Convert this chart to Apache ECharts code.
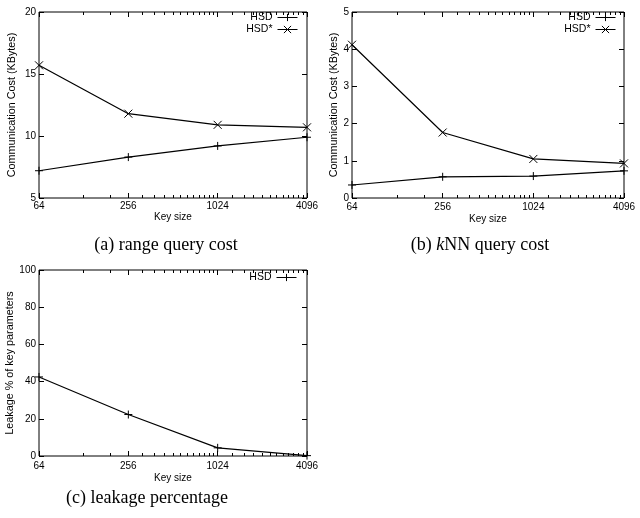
<!DOCTYPE html>
<html>
<head>
    <meta charset="utf-8">
    <title>Key size cost charts</title>
    <script src="https://cdn.jsdelivr.net/npm/echarts@6/dist/echarts.min.js"></script>
    <style>
        html, body { margin: 0; padding: 0; background: #fff; }
    </style>
</head>
<body>
<div id="main" style="width: 640px;height:518px;"></div>
<script>
    // data
    const keySizes = [64, 256, 1024, 4096];
    const minorTicks = [128, 192, 320, 384, 448, 512, 576, 640, 704, 768, 832, 896, 960,
        1280, 1536, 1792, 2048, 2304, 2560, 2816, 3072, 3328, 3584, 3840];
    const rangeHSD = [7.2, 8.3, 9.2, 9.9];
    const rangeHSDStar = [15.7, 11.8, 10.9, 10.7];
    const knnHSD = [0.35, 0.57, 0.59, 0.73];
    const knnHSDStar = [4.12, 1.76, 1.05, 0.93];
    const leakHSD = [42.5, 22.3, 4.4, 0.2];

    const FONT = 'Liberation Sans';
    const PLUS = 'path://M0,5L10,5M5,0L5,10';
    const CROSS = 'path://M0,0L10,10M10,0L0,10';

    const pairs = (ys) => keySizes.map((x, i) => [x, ys[i]]);

    // gnuplot style panels: box border, ticks inside, mirrored on top/right
    const panels = [
        { grid: { left: 39, top: 12, width: 268, height: 186 },
          y: { min: 5, max: 20, interval: 5, name: 'Communication Cost (KBytes)', gap: 21 },
          labelMargin: 3, xNameGap: 14,
          series: [['HSD', PLUS, rangeHSD], ['HSD*', CROSS, rangeHSDStar]],
          legend: { right: 342, top: 12 } },
        { grid: { left: 352, top: 12, width: 272, height: 186 },
          y: { min: 0, max: 5, interval: 1, name: 'Communication Cost (KBytes)', gap: 11 },
          labelMargin: 4, xNameGap: 16,
          series: [['HSD', PLUS, knnHSD], ['HSD*', CROSS, knnHSDStar]],
          legend: { right: 24, top: 12 } },
        { grid: { left: 39, top: 270, width: 268, height: 186 },
          y: { min: 0, max: 100, interval: 20, name: 'Leakage % of key parameters', gap: 19 },
          labelMargin: 5, xNameGap: 17,
          series: [['HSD', PLUS, leakHSD]],
          legend: { right: 343, top: 272 } }
    ];

    const grid = [], xAxis = [], yAxis = [], series = [], legend = [];
    const logX = { type: 'log', logBase: 4, min: 64, max: 4096 };
    const tickStyle = { color: '#000', width: 1 };

    panels.forEach((p, gi) => {
        grid.push(Object.assign({ show: true, borderColor: '#000', borderWidth: 1 }, p.grid));
        const xMain = xAxis.length;
        xAxis.push(Object.assign({}, logX, {
            gridIndex: gi, position: 'bottom',
            name: 'Key size', nameLocation: 'middle', nameGap: p.xNameGap,
            nameTextStyle: { fontFamily: FONT, fontSize: 10, color: '#000' },
            axisLine: { show: false }, splitLine: { show: false },
            axisTick: { inside: true, length: 5, lineStyle: tickStyle },
            axisLabel: { fontFamily: FONT, fontSize: 10, color: '#000', margin: p.labelMargin,
                showMinLabel: true, showMaxLabel: true, formatter: (v) => String(Math.round(v)) }
        }));
        ['bottom', 'top'].forEach((pos) => {
            xAxis.push(Object.assign({}, logX, {
                gridIndex: gi, position: pos,
                axisLine: { show: false }, splitLine: { show: false },
                axisLabel: { show: false },
                axisTick: { inside: true, length: 3, lineStyle: tickStyle, customValues: minorTicks }
            }));
        });
        xAxis.push(Object.assign({}, logX, {
            gridIndex: gi, position: 'top',
            axisLine: { show: false }, splitLine: { show: false },
            axisLabel: { show: false },
            axisTick: { inside: true, length: 5, lineStyle: tickStyle }
        }));
        const yMain = yAxis.length;
        yAxis.push({
            type: 'value', gridIndex: gi, position: 'left',
            min: p.y.min, max: p.y.max, interval: p.y.interval,
            name: p.y.name, nameLocation: 'middle', nameGap: p.y.gap, nameRotate: 90,
            nameTextStyle: { fontFamily: FONT, fontSize: 10.8, color: '#000' },
            axisLine: { show: false }, splitLine: { show: false },
            axisTick: { inside: true, length: 5, lineStyle: tickStyle },
            axisLabel: { fontFamily: FONT, fontSize: 10, color: '#000', margin: 3 }
        });
        yAxis.push({
            type: 'value', gridIndex: gi, position: 'right',
            min: p.y.min, max: p.y.max, interval: p.y.interval,
            axisLine: { show: false }, splitLine: { show: false },
            axisTick: { inside: true, length: 5, lineStyle: tickStyle },
            axisLabel: { show: false }
        });
        p.series.forEach(([name, symbol, ys]) => {
            series.push({
                name, type: 'line', xAxisIndex: xMain, yAxisIndex: yMain,
                symbol, symbolSize: 8, showAllSymbol: true, clip: false,
                lineStyle: { color: '#000', width: 1.2 },
                itemStyle: { color: '#000', borderColor: '#000', borderWidth: 1 },
                data: pairs(ys)
            });
        });
        legend.push({
            orient: 'vertical', align: 'right', right: p.legend.right, top: p.legend.top,
            itemWidth: 20, itemHeight: 9, itemGap: 1, padding: 0,
            selectedMode: false,
            itemStyle: { borderWidth: 1 },
            lineStyle: { width: 1 },
            textStyle: { fontFamily: FONT, fontSize: 10.5, color: '#000', lineHeight: 10 },
            data: p.series.map((s) => s[0])
        });
    });

    const capStyle = { fontFamily: 'Liberation Serif', fontSize: 18, fill: '#000', align: 'center', verticalAlign: 'middle' };
    const option = {
        animation: false,
        backgroundColor: '#fff',
        grid, xAxis, yAxis, series, legend,
        graphic: [
            { type: 'text', x: 166, y: 245, style: Object.assign({ text: '(a) range query cost' }, capStyle) },
            { type: 'text', x: 480, y: 245, style: Object.assign({
                text: '(b) {i|k}NN query cost',
                rich: { i: { fontFamily: 'Liberation Serif', fontSize: 18, fontStyle: 'italic' } }
              }, capStyle) },
            { type: 'text', x: 147, y: 498, style: Object.assign({ text: '(c) leakage percentage' }, capStyle) }
        ]
    };

    const myChart = echarts.init(document.getElementById('main'));
    myChart.setOption(option);
</script>
</body>
</html>
